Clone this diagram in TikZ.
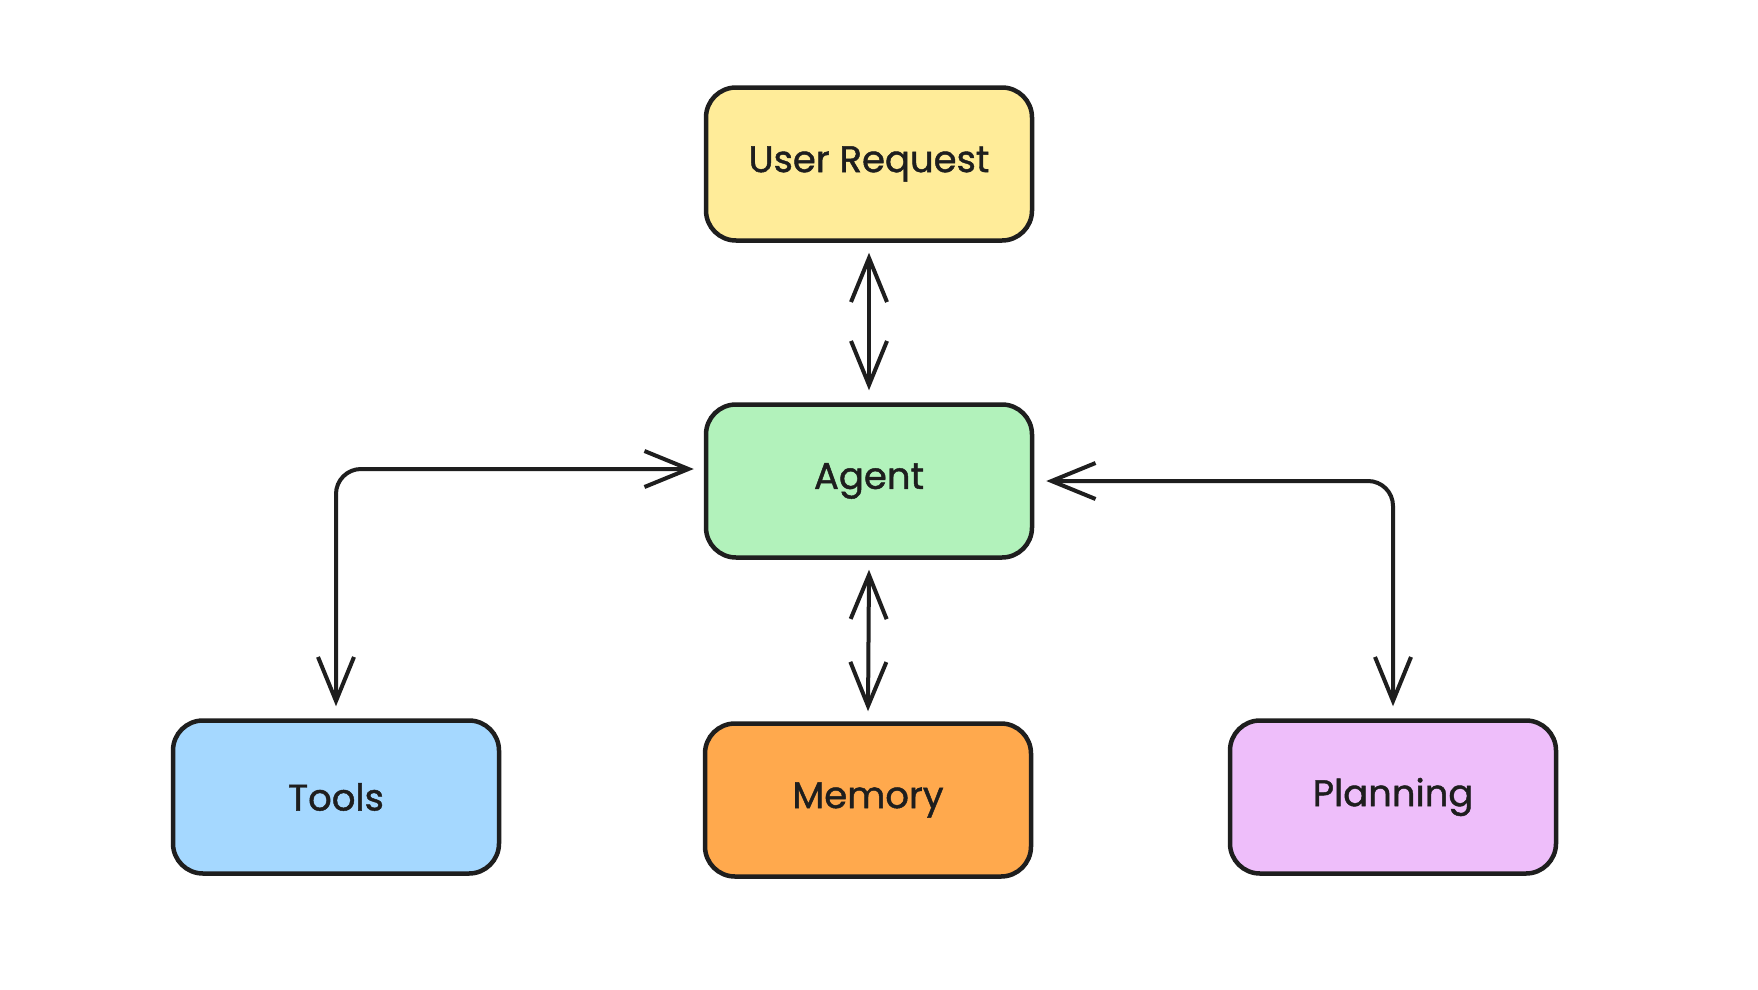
\documentclass[tikz,border=0pt]{standalone}
\usepackage{fontspec}
\setmainfont{Poppins}[FakeBold=1.2]
\usetikzlibrary{arrows.meta,calc}
\definecolor{ink}{HTML}{1E1E1E}
\definecolor{cyellow}{HTML}{FFEC99}
\definecolor{cgreen}{HTML}{B2F2BB}
\definecolor{cblue}{HTML}{A5D8FF}
\definecolor{corange}{HTML}{FFA94D}
\definecolor{cpurple}{HTML}{EEBEFA}
\tikzset{
  box/.style={draw=ink, line width=4.5pt, rounded corners=30pt, minimum width=326pt, minimum height=153pt, inner sep=0pt, font=\fontsize{37}{44}\selectfont, text=ink},
  arr/.style={draw=ink, line width=4pt, line cap=round, line join=round, {Straight Barb[length=44pt,width=36pt,line width=4pt]}-{Straight Barb[length=44pt,width=36pt,line width=4pt]}}
}
\begin{document}
\begin{tikzpicture}[x=1pt,y=-1pt]
\useasboundingbox[fill=white] (0,0) rectangle (1758,990);
\node[box, fill=cyellow] (user) at (869,164) {User Request};
\node[box, fill=cgreen] (agent) at (869,481) {Agent};
\node[box, fill=cblue] (tools) at (336,797) {Tools};
\node[box, fill=corange] (memory) at (868,800) {Memory};
\node[box, fill=cpurple] (planning) at (1393,797) {Planning};
\draw[arr] ([yshift=-10pt]user.south) -- ([yshift=12pt]agent.north);
\draw[arr] ([yshift=-10pt]agent.south) -- ([yshift=10pt]memory.north);
\draw[arr, rounded corners=25pt] ([xshift=-10pt,yshift=12pt]agent.west) -| ([yshift=12pt]tools.north);
\draw[arr, rounded corners=25pt] ([xshift=12pt]agent.east) -| ([yshift=12pt]planning.north);
\end{tikzpicture}
\end{document}
